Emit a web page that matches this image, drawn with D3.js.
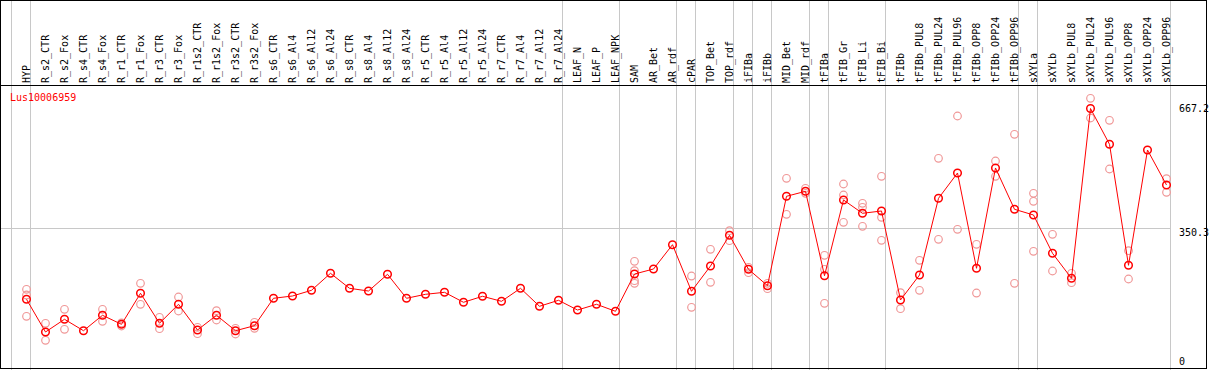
<!DOCTYPE html>
<html>
<head>
<meta charset="utf-8">
<script src="https://cdn.jsdelivr.net/npm/d3@7"></script>
<style>
  body { margin: 0; background: #fff; }
  text { font-family: "DejaVu Sans Mono", monospace; font-size: 10px; }
</style>
</head>
<body>
<script>
var width = 1209,
    height = 370;

// sample names (one column each)
var labels = ["HYP", "R_s2_CTR", "R_s2_Fox", "R_s4_CTR", "R_s4_Fox", "R_r1_CTR", "R_r1_Fox",
    "R_r3_CTR", "R_r3_Fox", "R_r1s2_CTR", "R_r1s2_Fox", "R_r3s2_CTR", "R_r3s2_Fox",
    "R_s6_CTR", "R_s6_Al4", "R_s6_Al12", "R_s6_Al24", "R_s8_CTR", "R_s8_Al4", "R_s8_Al12", "R_s8_Al24",
    "R_r5_CTR", "R_r5_Al4", "R_r5_Al12", "R_r5_Al24", "R_r7_CTR", "R_r7_Al4", "R_r7_Al12", "R_r7_Al24",
    "LEAF_N", "LEAF_P", "LEAF_NPK", "SAM", "AR_Bet", "AR_rdf", "cPAR", "TOP_Bet", "TOP_rdf",
    "iFIBa", "iFIBb", "MID_Bet", "MID_rdf", "tFIBa", "tFIB_Gr", "tFIB_Li", "tFIB_Bi", "tFIBb",
    "tFIBb_PUL8", "tFIBb_PUL24", "tFIBb_PUL96", "tFIBb_OPP8", "tFIBb_OPP24", "tFIBb_OPP96",
    "sXYLa", "sXYLb", "sXYLb_PUL8", "sXYLb_PUL24", "sXYLb_PUL96", "sXYLb_OPP8", "sXYLb_OPP24", "sXYLb_OPP96"];

// mean expression per sample
var means = [161.0, 74.3, 108.0, 77.7, 118.6, 94.7, 177.0, 97.4, 147.8, 79.6, 118.6, 77.7, 91.0,
    163.7, 169.8, 184.9, 230.0, 190.2, 183.0, 227.3, 163.7,
    174.3, 179.6, 153.1, 169.0, 155.7, 190.2, 142.5, 158.4,
    132.6, 147.8, 129.2, 228.1, 241.4, 305.9, 182.3, 249.4, 330.8,
    240.6, 197.1, 434.3, 447.5, 223.6, 424.5, 389.2, 395.3, 159.2,
    225.5, 429.0, 496.1, 243.3, 509.4, 399.8,
    384.7, 283.1, 216.7, 667.2, 572.2, 251.2, 557.1, 464.3];

// replicate values per sample
var replicates = [[187.6, 172.4, 115.9], [97.4, 52.3], [134.5, 81.4], [], [134.5, 102.7], [98.2, 90.2],
    [203.5, 147.8], [113.3, 83.0], [167.1, 130.0], [86.7, 69.8], [130.8, 106.1], [84.1, 69.0], [100.0, 84.1],
    [], [], [], [], [], [], [], [],
    [], [], [], [], [], [], [], [],
    [], [], [], [261.8, 236.9, 210.4, 203.5], [], [], [222.8, 139.8], [293.7, 206.1], [343.0, 316.5],
    [245.9, 231.6], [203.5, 189.2], [482.0, 386.5], [455.5, 442.2], [277.8, 240.6, 150.4],
    [466.9, 437.7, 365.3], [415.7, 405.1, 354.7], [487.3, 378.6, 317.5], [178.5, 136.1],
    [264.5, 184.9], [535.1, 320.2], [647.3, 346.7], [306.9, 177.7], [527.9, 487.3], [598.8, 203.5],
    [442.2, 421.0, 288.4], [333.5, 236.1], [230.0, 205.1], [694.3, 642.0], [635.9, 506.7],
    [290.0, 214.9], [], [481.0, 444.9]];

// groups end after these column indexes (-1 = left edge)
var groupEnds = [-1, 0, 28, 31, 34, 35, 37, 38, 39, 41, 42, 45, 52, 53, 60];

var yTicks = [0, 350.3, 667.2];
var geneName = "Lus10006959";

var svg = d3.select("body").append("svg")
    .attr("width", width)
    .attr("height", height);

var x = d3.scalePoint()
    .domain(labels)
    .range([26.5, 1166.5]);

var y = d3.scaleLinear()
    .domain([0, 667.2])
    .range([360, 108.5]);

var step = x.step();
function colX(i) { return x(labels[0]) + i * step; }

// grey separators between groups
svg.selectAll(".sep")
    .data(groupEnds)
    .enter().append("line")
    .attr("class", "sep")
    .attr("x1", function(d) { return Math.floor(colX(d) + 4) + 0.5; })
    .attr("x2", function(d) { return Math.floor(colX(d) + 4) + 0.5; })
    .attr("y1", 0)
    .attr("y2", height)
    .style("stroke", "#c8c8c8")
    .style("stroke-width", 1);

// middle reference line
svg.append("line")
    .attr("x1", 0)
    .attr("x2", Math.floor(colX(60) + 4) + 0.5)
    .attr("y1", Math.round(y(350.3)) + 0.5)
    .attr("y2", Math.round(y(350.3)) + 0.5)
    .style("stroke", "#c8c8c8");

// frame
svg.append("rect")
    .attr("x", 0.5).attr("y", 0.5)
    .attr("width", 1206).attr("height", 368)
    .style("fill", "none").style("stroke", "#000");
svg.append("line")
    .attr("x1", 0).attr("x2", 1207)
    .attr("y1", 85.5).attr("y2", 85.5)
    .style("stroke", "#000");

// column labels, rotated
svg.selectAll(".lab")
    .data(labels)
    .enter().append("text")
    .attr("class", "lab")
    .attr("transform", function(d) { return "translate(" + (x(d) + 3.5) + ",83) rotate(-90)"; })
    .style("fill", "#000")
    .text(function(d) { return d; });

svg.append("text")
    .attr("x", 10).attr("y", 101)
    .style("fill", "#f00")
    .text(geneName);

// y labels on the right
svg.selectAll(".ytick")
    .data(yTicks)
    .enter().append("text")
    .attr("class", "ytick")
    .attr("x", 1179)
    .attr("y", function(d) { return d === 0 ? y(d) + 5 : (d === 350.3 ? y(d) + 8 : y(d) + 3); })
    .style("fill", "#000")
    .text(function(d) { return d === 0 ? "0" : d3.format(".1f")(d); });

// replicate points
var repPts = [];
replicates.forEach(function(r, i) {
    r.forEach(function(v) { repPts.push({ i: i, v: v }); });
});

svg.selectAll(".rep")
    .data(repPts)
    .enter().append("circle")
    .attr("class", "rep")
    .attr("cx", function(d) { return x(labels[d.i]); })
    .attr("cy", function(d) { return y(d.v); })
    .attr("r", 3.8)
    .style("fill", "none")
    .style("stroke", "#f09898")
    .style("stroke-width", 1.2);

var line = d3.line()
    .x(function(d, i) { return x(labels[i]); })
    .y(function(d) { return y(d); });

svg.append("path")
    .datum(means)
    .attr("d", line)
    .style("fill", "none")
    .style("stroke", "#f00")
    .style("stroke-width", 1);

svg.selectAll(".mean")
    .data(means)
    .enter().append("circle")
    .attr("class", "mean")
    .attr("cx", function(d, i) { return x(labels[i]); })
    .attr("cy", function(d) { return y(d); })
    .attr("r", 3.8)
    .style("fill", "none")
    .style("stroke", "#f00")
    .style("stroke-width", 1.5);
</script>
</body>
</html>
